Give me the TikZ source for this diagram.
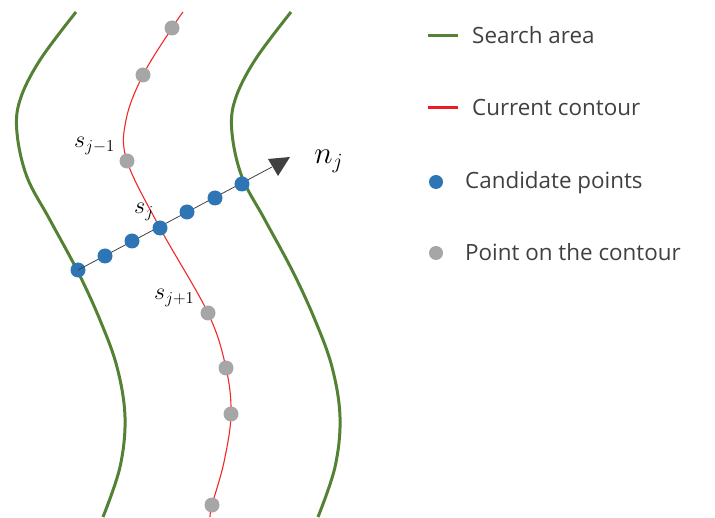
\documentclass[tikz,border=0pt]{standalone}
\usepackage{fontspec}
\newfontfamily\legendfont{Open Sans}
\begin{document}
\begin{tikzpicture}[x=1pt,y=-1pt,
  green line/.style={draw=areagreen,line width=3pt},
  red line/.style={draw=contourred,line width=1.1pt},
  bluedot/.style={circle,fill=candblue,minimum size=15pt,inner sep=0pt},
  graydot/.style={circle,fill=ptgray,minimum size=15pt,inner sep=0pt},
  legtext/.style={anchor=base west,inner sep=0pt,text=txtgray,font=\legendfont\fontsize{22.4}{26}\selectfont},
  mathlabel/.style={anchor=base west,inner sep=0pt,scale=1.16,font=\fontsize{20.74}{25}\selectfont},
]
\definecolor{areagreen}{HTML}{548235}
\definecolor{contourred}{HTML}{F02828}
\definecolor{legred}{HTML}{ED1C24}
\definecolor{candblue}{HTML}{2E75B6}
\definecolor{ptgray}{HTML}{A6A6A6}
\definecolor{txtgray}{HTML}{404040}
\definecolor{arrowgray}{HTML}{404040}
\useasboundingbox (0,0) rectangle (715,518);

% search area curves
\draw[green line] plot[smooth,tension=0.6] coordinates {(76,12) (40,60) (20,100) (17,133) (27,177) (50,220) (78,272) (100,320) (117,367) (125,417) (120,467) (103,517)};
\draw[green line,xshift=215pt] plot[smooth,tension=0.6] coordinates {(76,12) (40,60) (20,100) (17,133) (27,177) (50,220) (78,272) (100,320) (117,367) (125,417) (120,467) (103,517)};

% current contour
\draw[red line] plot[smooth,tension=0.6] coordinates {(183,12) (172,28) (143,75) (126,120) (127,161) (160,228) (208,313) (226,368) (231,414) (224,462) (212,505) (210,517)};

% normal line and arrow
\coordinate (tip) at (290,157);
\node[bluedot] (c1) at (78,270) {};
\draw[draw=arrowgray,line width=0.8pt] (c1.center) -- (272,167);
\fill[arrowgray] (tip) -- (268,159) -- (278,176) -- cycle;

\node[bluedot] (c2) at (105,256) {};
\node[bluedot] (c3) at (132,241) {};
\node[bluedot] (c4) at (160,228) {};
\node[bluedot] (c5) at (187,212) {};
\node[bluedot] (c6) at (215,198) {};
\node[bluedot] (c7) at (242,184) {};

% contour points
\node[graydot] (p1) at (172,28) {};
\node[graydot] (p2) at (143,75) {};
\node[graydot] (p3) at (127,161) {};
\node[graydot] (p4) at (208,313) {};
\node[graydot] (p5) at (226,368) {};
\node[graydot] (p6) at (231,414) {};
\node[graydot] (p7) at (212,505) {};

% labels
\node[mathlabel] (l1) at (74,148) {$s_{j-1}$};
\node[mathlabel] (l2) at (134,214) {$s_j$};
\node[mathlabel] (l3) at (154,300) {$s_{j+1}$};
\node[mathlabel,scale=1.3] (l4) at (314,164) {$n_j$};

% legend
\draw[draw=areagreen,line width=3pt] (428,36) coordinate (g1) -- (458,36) coordinate (g2);
\node[legtext] (t1) at (472,44) {Search area};
\draw[draw=legred,line width=3pt] (428,108) coordinate (r1) -- (458,108) coordinate (r2);
\node[legtext] (t2) at (472,116) {Current contour};
\node[bluedot,minimum size=14pt] (b0) at (436,182) {};
\node[legtext] (t3) at (465,189) {Candidate points};
\node[graydot,minimum size=14pt] (q0) at (436,253) {};
\node[legtext] (t4) at (465,261) {Point on the contour};
\end{tikzpicture}
\end{document}
